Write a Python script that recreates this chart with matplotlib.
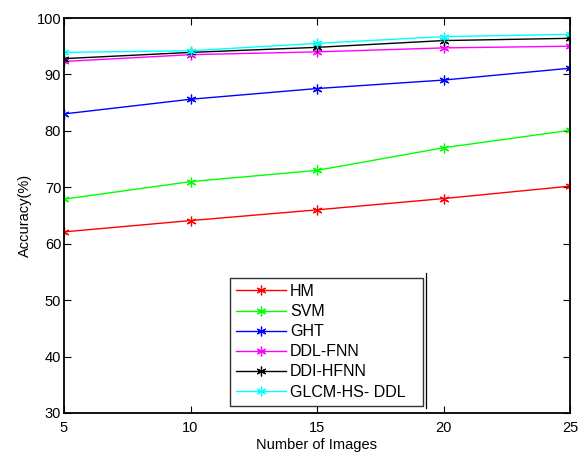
import matplotlib
matplotlib.use("Agg")
import matplotlib.pyplot as plt
from matplotlib.lines import Line2D

plt.rcParams['font.family'] = ['Liberation Sans', 'DejaVu Sans']

x_images = [5, 10, 15, 20, 25]
hm = [62.1, 64.1, 66.0, 68.0, 70.2]
svm = [67.9, 71.0, 73.0, 77.0, 80.1]
ght = [83.0, 85.6, 87.5, 89.0, 91.1]
ddl_fnn = [92.3, 93.5, 94.0, 94.7, 95.0]
ddi_hfnn = [92.8, 93.9, 94.8, 96.0, 96.4]
glcm = [93.9, 94.2, 95.5, 96.7, 97.1]

series_names = ['HM', 'SVM', 'GHT', 'DDL-FNN', 'DDI-HFNN', 'GLCM-HS- DDL']
series_vals = [hm, svm, ght, ddl_fnn, ddi_hfnn, glcm]
colors = ['#ff0000', '#00ff00', '#0000ff', '#ff00ff', '#000000', '#00ffff']

W, H = 581, 453
L, R, T, B = 64, 570, 18, 413
fig = plt.figure(figsize=(W / 100, H / 100), dpi=100)
ax = fig.add_axes([L / W, (H - B) / H, (R - L) / W, (B - T) / H])
aw, ah = R - L, B - T

for name, vals, c in zip(series_names, series_vals, colors):
    ax.plot(x_images, vals, color=c, lw=1.0, marker=(6, 2, 0), ms=7,
            mew=0.9, label=name)

ax.set_xlim(5, 25)
ax.set_ylim(30, 100)
ax.set_xticks([5, 10, 15, 20, 25])
ax.set_yticks(range(30, 101, 10))
ax.tick_params(direction='in', top=True, right=True, labelsize=10.5, length=5,
               width=0.8)
ax.tick_params(axis='x', pad=6)
ax.tick_params(axis='y', pad=2)
for s in ax.spines.values():
    s.set_linewidth(1.3)
ax.set_xlabel('Number of Images', fontsize=10.5, labelpad=2)
ax.set_ylabel('Accuracy(%)', fontsize=10.5, labelpad=3)

fs = 11.5
leg = ax.legend(loc='lower left',
                bbox_to_anchor=((230 - L) / aw, (B - 406) / ah, (423 - 230) / aw, 134 / ah),
                mode='expand', fontsize=fs, frameon=True, fancybox=False,
                handlelength=3.1, handletextpad=0.25, borderaxespad=0,
                labelspacing=0.32, borderpad=0.4)
leg.get_frame().set_edgecolor('black')
leg.get_frame().set_linewidth(1.0)

# double edge on right side of legend box
ax.add_line(Line2D([(426 - L) / aw] * 2, [(B - 408) / ah, (B - 273) / ah],
                   transform=ax.transAxes, color='black', lw=0.9, clip_on=False))

fig.savefig('out.png', dpi=100)
